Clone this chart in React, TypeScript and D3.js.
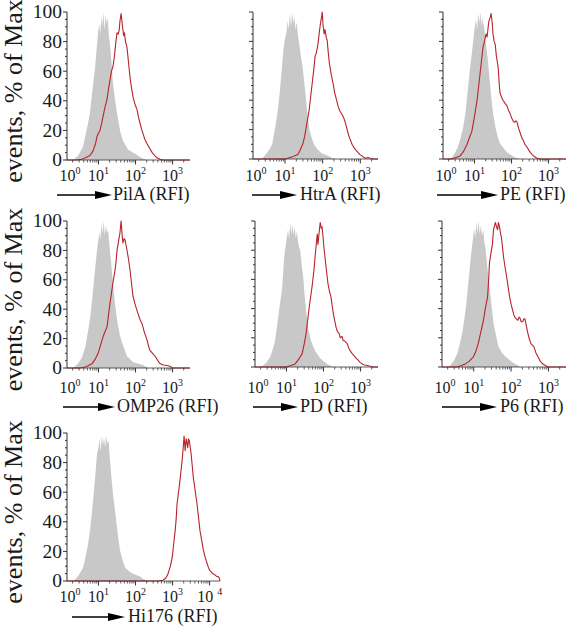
import React from "react";
import * as d3 from "d3";

type Pt = [number, number];

const markers = ["PilA", "HtrA", "PE", "OMP26", "PD", "P6", "Hi176"];
const yTicks = [0, 20, 40, 60, 80, 100];
const decadeExponents = [0, 1, 2, 3, 4];
const axisUnit = "(RFI)";
const yTitle = "events, % of Max";

// x values are log10(RFI), y values are % of max
const pilaControl: Pt[] = [[0.3,0],[0.37,1],[0.45,3],[0.52,6],[0.58,9],[0.66,18],[0.72,25],[0.77,32],[0.84,48],[0.91,63],[0.96,78],[0.99,86],[1.02,92],[1.05,85],[1.08,97],[1.1,90],[1.13,100],[1.16,88],[1.19,98],[1.22,92],[1.25,96],[1.28,84],[1.31,78],[1.35,66],[1.39,52],[1.45,40],[1.53,27],[1.59,19],[1.66,13],[1.73,10],[1.8,7],[1.87,6],[1.93,5],[2.0,4],[2.06,3],[2.12,2],[2.2,1],[2.31,0]];
const pilaStained: Pt[] = [[0.42,0],[0.55,0.5],[0.65,1.5],[0.77,3],[0.85,6],[0.92,11],[0.96,16],[1.0,18],[1.04,20],[1.08,24],[1.12,29],[1.17,35],[1.23,41],[1.27,48],[1.31,54],[1.35,60],[1.39,63],[1.43,70],[1.47,80],[1.5,86],[1.53,85],[1.56,88],[1.58,94],[1.61,99],[1.64,92],[1.66,88],[1.68,84],[1.7,86],[1.73,80],[1.77,76],[1.81,66],[1.85,56],[1.89,49],[1.93,43],[1.98,38],[2.04,34],[2.08,29],[2.12,25],[2.16,21],[2.2,18],[2.25,14],[2.31,11],[2.38,8],[2.45,5],[2.52,3],[2.58,1.5],[2.66,0.5],[2.74,0]];

const htraControl: Pt[] = [[0.35,0],[0.42,1],[0.52,4],[0.6,7],[0.66,10],[0.73,20],[0.8,31],[0.84,40],[0.88,51],[0.92,63],[0.96,75],[1.0,82],[1.04,86],[1.07,94],[1.1,88],[1.13,99],[1.16,90],[1.19,100],[1.22,92],[1.25,97],[1.28,88],[1.31,93],[1.34,85],[1.37,80],[1.42,70],[1.47,62],[1.52,50],[1.56,40],[1.6,30],[1.64,21],[1.7,15],[1.77,10],[1.85,7],[1.96,4],[2.05,3],[2.15,2],[2.23,1],[2.31,0]];
const htraStained: Pt[] = [[1.0,0],[1.07,0.5],[1.2,1.5],[1.34,3],[1.4,6],[1.47,10],[1.52,15],[1.56,21],[1.6,27],[1.64,33],[1.68,42],[1.72,51],[1.77,62],[1.8,70],[1.83,72],[1.86,76],[1.88,79],[1.91,86],[1.93,90],[1.96,95],[1.99,100],[2.01,91],[2.04,85],[2.06,88],[2.07,87],[2.1,82],[2.12,81],[2.15,72],[2.18,65],[2.23,57],[2.28,51],[2.32,45],[2.37,40],[2.41,36],[2.45,33],[2.5,31],[2.56,28],[2.6,25],[2.64,21],[2.68,17],[2.72,14],[2.78,10],[2.85,7],[2.92,5],[2.99,3],[3.05,2],[3.1,1],[3.15,0.5],[3.2,1],[3.28,0.3],[3.35,0]];

const peControl: Pt[] = [[0.3,0],[0.39,1],[0.47,4],[0.55,8],[0.62,14],[0.69,21],[0.75,30],[0.8,42],[0.84,52],[0.88,62],[0.92,70],[0.96,79],[0.99,86],[1.01,90],[1.04,95],[1.07,88],[1.1,99],[1.13,92],[1.16,100],[1.19,90],[1.21,97],[1.23,93],[1.26,90],[1.3,80],[1.34,72],[1.38,62],[1.42,51],[1.46,40],[1.5,31],[1.57,21],[1.64,14],[1.7,10],[1.77,8],[1.86,5],[1.96,3],[2.1,1],[2.23,0]];
const peStained: Pt[] = [[0.39,0],[0.5,1],[0.61,2],[0.7,5],[0.8,10],[0.87,15],[0.93,19],[1.0,29],[1.07,40],[1.11,49],[1.15,58],[1.19,67],[1.23,76],[1.27,80],[1.31,85],[1.34,83],[1.37,90],[1.39,94],[1.42,96],[1.45,99],[1.48,92],[1.5,85],[1.53,80],[1.56,78],[1.59,70],[1.61,67],[1.64,62],[1.67,50],[1.69,45],[1.73,42],[1.77,40],[1.82,38],[1.88,36],[1.92,33],[1.96,31],[2.0,28],[2.04,26],[2.08,25],[2.12,26],[2.15,25],[2.19,21],[2.23,18],[2.27,15],[2.31,13],[2.36,10],[2.42,8],[2.49,5],[2.56,3],[2.62,1.5],[2.69,0.5],[2.77,0]];

const omp26Control: Pt[] = [[0.3,0],[0.37,1],[0.45,3],[0.55,7],[0.64,14],[0.71,24],[0.77,33],[0.83,47],[0.88,60],[0.92,70],[0.96,80],[0.99,86],[1.02,92],[1.05,87],[1.08,98],[1.11,91],[1.14,100],[1.17,90],[1.2,97],[1.23,92],[1.26,94],[1.29,85],[1.31,80],[1.35,69],[1.39,58],[1.44,45],[1.5,33],[1.57,23],[1.64,17],[1.71,12],[1.77,8],[1.85,6],[1.93,4],[2.05,3],[2.2,2],[2.28,1],[2.34,0]];
const omp26Stained: Pt[] = [[0.5,0],[0.62,0.5],[0.72,1.5],[0.83,3],[0.91,6],[0.99,10],[1.05,15],[1.12,21],[1.18,25],[1.23,28],[1.27,36],[1.31,44],[1.35,51],[1.39,58],[1.43,64],[1.45,67],[1.48,74],[1.5,80],[1.54,86],[1.58,92],[1.61,100],[1.64,90],[1.66,85],[1.69,88],[1.72,87],[1.74,84],[1.77,80],[1.81,74],[1.85,67],[1.89,58],[1.93,49],[1.98,44],[2.04,39],[2.08,36],[2.12,33],[2.16,31],[2.2,28],[2.23,25],[2.27,22],[2.31,19],[2.35,15],[2.39,12],[2.46,10],[2.53,8],[2.6,5],[2.66,3],[2.75,2],[2.88,1.5],[2.95,1],[2.99,0]];

const pdControl: Pt[] = [[0.3,0],[0.37,1],[0.46,3],[0.56,7],[0.63,12],[0.69,18],[0.75,29],[0.8,39],[0.84,46],[0.88,53],[0.93,73],[0.97,82],[1.01,89],[1.04,94],[1.07,88],[1.1,99],[1.13,91],[1.16,98],[1.19,90],[1.22,96],[1.25,88],[1.28,93],[1.31,86],[1.34,82],[1.37,80],[1.41,70],[1.45,62],[1.5,46],[1.54,36],[1.58,27],[1.65,19],[1.72,14],[1.8,10],[1.91,6],[2.0,4],[2.1,2],[2.18,1],[2.26,0]];
const pdStained: Pt[] = [[1.0,0],[1.12,1],[1.23,2],[1.32,5],[1.42,9],[1.48,16],[1.53,23],[1.58,34],[1.63,44],[1.69,55],[1.74,66],[1.77,75],[1.8,83],[1.83,91],[1.85,84],[1.88,92],[1.91,99],[1.94,95],[1.96,96],[1.99,88],[2.01,82],[2.04,75],[2.07,68],[2.12,57],[2.16,52],[2.2,48],[2.26,37],[2.3,32],[2.34,27],[2.38,24],[2.42,23],[2.45,20],[2.5,21],[2.53,18],[2.56,18],[2.6,17],[2.64,16],[2.68,13],[2.72,11],[2.78,9],[2.85,7],[2.92,5],[2.99,3],[3.08,1.5],[3.18,1],[3.26,0.5],[3.34,0]];

const p6Control: Pt[] = [[0.3,0],[0.37,1],[0.46,4],[0.56,9],[0.62,15],[0.69,23],[0.75,33],[0.8,43],[0.84,54],[0.88,64],[0.92,75],[0.96,84],[0.99,90],[1.01,95],[1.04,88],[1.07,99],[1.1,92],[1.13,100],[1.16,91],[1.19,97],[1.22,90],[1.26,94],[1.28,86],[1.31,82],[1.35,72],[1.39,62],[1.45,48],[1.49,39],[1.53,30],[1.6,21],[1.66,14],[1.75,10],[1.85,7],[1.95,5],[2.04,3],[2.15,1.5],[2.26,0]];
const p6Stained: Pt[] = [[0.56,0],[0.67,1],[0.77,2],[0.88,4],[0.99,7],[1.06,11],[1.12,16],[1.19,24],[1.26,32],[1.31,40],[1.37,48],[1.4,60],[1.42,71],[1.46,78],[1.5,84],[1.53,94],[1.56,97],[1.58,99],[1.61,96],[1.64,94],[1.66,99],[1.69,96],[1.72,91],[1.74,89],[1.77,82],[1.8,75],[1.84,68],[1.88,62],[1.92,55],[1.96,48],[2.0,43],[2.04,39],[2.07,36],[2.1,34],[2.14,33],[2.18,32],[2.21,34],[2.23,34],[2.27,31],[2.31,31],[2.34,33],[2.37,33],[2.41,28],[2.45,23],[2.49,19],[2.53,16],[2.57,15],[2.61,14],[2.66,10],[2.72,7],[2.78,4],[2.85,2],[2.92,1],[2.99,0]];

const hi176Control: Pt[] = [[0.3,0],[0.37,1],[0.47,4],[0.58,9],[0.65,16],[0.72,25],[0.78,36],[0.83,48],[0.87,59],[0.91,70],[0.96,86],[1.0,90],[1.03,96],[1.06,88],[1.09,98],[1.12,92],[1.15,97],[1.18,90],[1.21,98],[1.24,93],[1.27,95],[1.29,88],[1.31,82],[1.35,70],[1.39,59],[1.45,47],[1.5,36],[1.54,28],[1.58,21],[1.65,14],[1.72,9],[1.81,7],[1.91,5],[2.02,4],[2.12,3],[2.2,1.5],[2.31,0]];
const hi176Stained: Pt[] = [[2.6,0],[2.74,0.5],[2.82,2],[2.88,5],[2.94,10],[2.99,16],[3.03,25],[3.07,34],[3.1,43],[3.12,52],[3.16,60],[3.2,68],[3.23,75],[3.26,82],[3.28,88],[3.29,91],[3.31,98],[3.33,92],[3.34,88],[3.36,94],[3.37,96],[3.39,93],[3.41,90],[3.43,96],[3.45,95],[3.48,90],[3.5,86],[3.53,78],[3.56,70],[3.61,61],[3.66,52],[3.7,43],[3.74,34],[3.79,27],[3.83,21],[3.88,16],[3.93,12],[3.97,9],[4.01,7],[4.08,5],[4.15,4],[4.2,3],[4.23,3],[4.26,2]];

const controls = [pilaControl, htraControl, peControl, omp26Control, pdControl, p6Control, hi176Control];
const stained = [pilaStained, htraStained, peStained, omp26Stained, pdStained, p6Stained, hi176Stained];

// layout (pixels)
const LOG_MIN = 0.15;
const layout = [
  { left: 67, right: 190, top: 12, bottom: 160, xMax: 3.47, tickY: 181, arrow: [57, 112], textX: 113, titleY: 200, yLabels: true },
  { left: 253, right: 378, top: 12, bottom: 159, xMax: 3.47, tickY: 181, arrow: [252, 297], textX: 300, titleY: 200, yLabels: false },
  { left: 443, right: 566, top: 12, bottom: 159, xMax: 3.47, tickY: 181, arrow: [437, 498], textX: 500, titleY: 200, yLabels: false },
  { left: 67, right: 190, top: 221, bottom: 368, xMax: 3.47, tickY: 393, arrow: [63, 115], textX: 117, titleY: 412, yLabels: true },
  { left: 255, right: 378, top: 221, bottom: 367, xMax: 3.47, tickY: 393, arrow: [253, 298], textX: 300, titleY: 412, yLabels: false },
  { left: 442, right: 566, top: 221, bottom: 367, xMax: 3.47, tickY: 393, arrow: [442, 497], textX: 500, titleY: 412, yLabels: false },
  { left: 67, right: 220, top: 433, bottom: 581, xMax: 4.28, tickY: 602, arrow: [72, 125], textX: 128, titleY: 622, yLabels: true },
];

const FONT = '"Liberation Serif", "Times New Roman", Times, serif';
const GRAY = "#c8c8c8";
const RED = "#b8232b";
const AXIS = "#333";
const TEXT = "#1a1a1a";

function Panel({ i }: { i: number }) {
  const c = layout[i];
  const x = d3.scaleLinear().domain([LOG_MIN, c.xMax]).range([c.left, c.right]);
  const y = d3.scaleLinear().domain([0, 100]).range([c.bottom, c.top]);
  const area = d3.area<Pt>().x((d) => x(d[0])).y0(y(0)).y1((d) => y(d[1]));
  const line = d3.line<Pt>().x((d) => x(d[0])).y((d) => y(d[1]));
  const redPts: Pt[] = [[LOG_MIN, 0], ...stained[i], [c.xMax, 0]];

  const minorX: number[] = [];
  decadeExponents.forEach((d) => {
    for (let k = 2; k <= 9; k++) {
      const v = d + Math.log10(k);
      if (v >= LOG_MIN && v <= c.xMax) minorX.push(v);
    }
  });
  const majorX = decadeExponents.filter((d) => d >= LOG_MIN && d <= c.xMax);
  const labelX = decadeExponents.filter((d) => d <= c.xMax);
  const yMinor = d3.range(0, 101, 5);

  const ay = c.titleY - 5;
  return (
    <g>
      <path d={area(controls[i]) || ""} fill={GRAY} stroke="none" />
      <path d={line(redPts) || ""} fill="none" stroke={RED} strokeWidth={1.1} strokeLinejoin="round" />
      {/* y axis */}
      <line x1={c.left} x2={c.left} y1={c.top} y2={c.bottom} stroke={AXIS} strokeWidth={1} />
      {yMinor.map((v) => (
        <line key={"yt" + v} x1={c.left - (v % 20 === 0 ? 4 : 2)} x2={c.left} y1={y(v)} y2={y(v)} stroke={AXIS} strokeWidth={1} />
      ))}
      {c.yLabels &&
        yTicks.map((v) => (
          <text key={"yl" + v} x={c.left - 5} y={y(v)} dy="0.33em" textAnchor="end" fontSize={19.5} fontFamily={FONT} fill={TEXT}>
            {v}
          </text>
        ))}
      {/* x axis */}
      <line x1={c.left} x2={c.right} y1={c.bottom} y2={c.bottom} stroke={AXIS} strokeWidth={0.8} />
      {minorX.map((v, k) => (
        <line key={"xm" + k} x1={x(v)} x2={x(v)} y1={c.bottom} y2={c.bottom + 2.5} stroke={AXIS} strokeWidth={0.8} />
      ))}
      {majorX.map((v) => (
        <line key={"xM" + v} x1={x(v)} x2={x(v)} y1={c.bottom} y2={c.bottom + 4.5} stroke={AXIS} strokeWidth={1} />
      ))}
      {labelX.map((e) => (
        <text key={"xl" + e} x={Math.max(x(e), c.left + 3)} y={c.tickY} textAnchor="middle" fontSize={16} fontFamily={FONT} fill={TEXT}>
          10
          <tspan dy={-7} dx={e === 4 ? 4 : 0} fontSize={10}>
            {e}
          </tspan>
        </text>
      ))}
      {/* title with arrow */}
      <line x1={c.arrow[0]} x2={c.arrow[1] - 14} y1={ay} y2={ay} stroke="#000" strokeWidth={1.5} />
      <path d={`M${c.arrow[1] - 17},${ay - 4} L${c.arrow[1]},${ay} L${c.arrow[1] - 17},${ay + 4} Z`} fill="#000" />
      <text x={c.textX} y={c.titleY} fontSize={18} fontFamily={FONT} fill={TEXT}>
        {markers[i]} {axisUnit}
      </text>
      {c.yLabels && (
        <text
          transform={`translate(22,${(c.top + c.bottom) / 2 + 5}) rotate(-90)`}
          textAnchor="middle"
          fontSize={26}
          fontFamily={FONT}
          fill={TEXT}
        >
          {yTitle}
        </text>
      )}
    </g>
  );
}

export default function App() {
  return (
    <svg
      width={567}
      height={626}
      viewBox="0 0 567 626"
      style={{ position: "absolute", left: 0, top: 0, background: "#fff" }}
    >
      <rect x={0} y={0} width={567} height={626} fill="#fff" />
      {markers.map((m, i) => (
        <Panel key={m} i={i} />
      ))}
    </svg>
  );
}
